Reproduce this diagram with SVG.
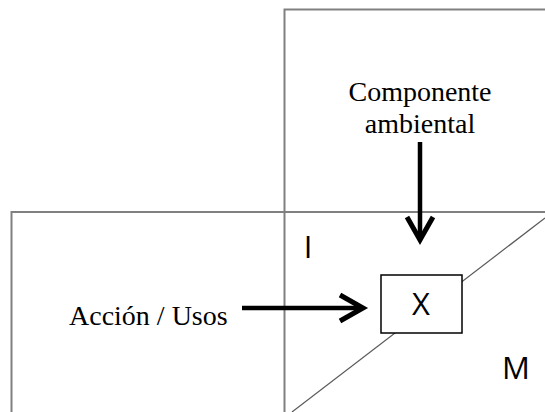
<svg xmlns="http://www.w3.org/2000/svg" width="545" height="412" viewBox="0 0 545 412">
<style>
.frame{fill:none;stroke:#808080;stroke-width:2}
.diag{fill:none;stroke:#5a5a5a;stroke-width:1.2}
.serif{font-family:"Liberation Serif","Times New Roman",serif;font-size:28px;fill:#000}
.sans{font-family:"Open Sans","Liberation Sans",sans-serif;font-size:31px;fill:#000}
.conn{stroke:#000;stroke-width:4.5;fill:none}
</style>
<defs>
<marker id="chev" markerUnits="userSpaceOnUse" viewBox="-35 -20 45 40" refX="0" refY="0" markerWidth="45" markerHeight="40" orient="auto" overflow="visible">
<path d="M-23,-13 L0,0 L-23,13" fill="none" stroke="#000" stroke-width="5" stroke-linejoin="miter"/>
</marker>
</defs>
<g id="frame">
<path class="frame" d="M284.5,412 V9.5 H545"/>
<path class="frame" d="M11.5,412 V212 H545"/>
<line class="diag" x1="292" y1="412" x2="545" y2="218"/>
</g>
<g id="label-I"><text class="sans" x="308" y="258" text-anchor="middle">I</text></g>
<g id="label-M"><text class="sans" x="516" y="379" text-anchor="middle">M</text></g>
<g id="node-X">
<rect x="381" y="275" width="81" height="58" fill="#fff" stroke="#000" stroke-width="1.5"/>
<text class="sans" x="421" y="315" text-anchor="middle">X</text>
</g>
<g id="node-componente">
<text class="serif" x="420" y="101" text-anchor="middle">Componente</text>
<text class="serif" x="420" y="133" text-anchor="middle">ambiental</text>
</g>
<g id="node-accion">
<text class="serif" x="69" y="325">Acción / Usos</text>
</g>
<g id="connectors">
<line class="conn" x1="420" y1="142" x2="420" y2="240" marker-end="url(#chev)"/>
<line class="conn" x1="242" y1="308" x2="363" y2="308" marker-end="url(#chev)"/>
</g>
</svg>
